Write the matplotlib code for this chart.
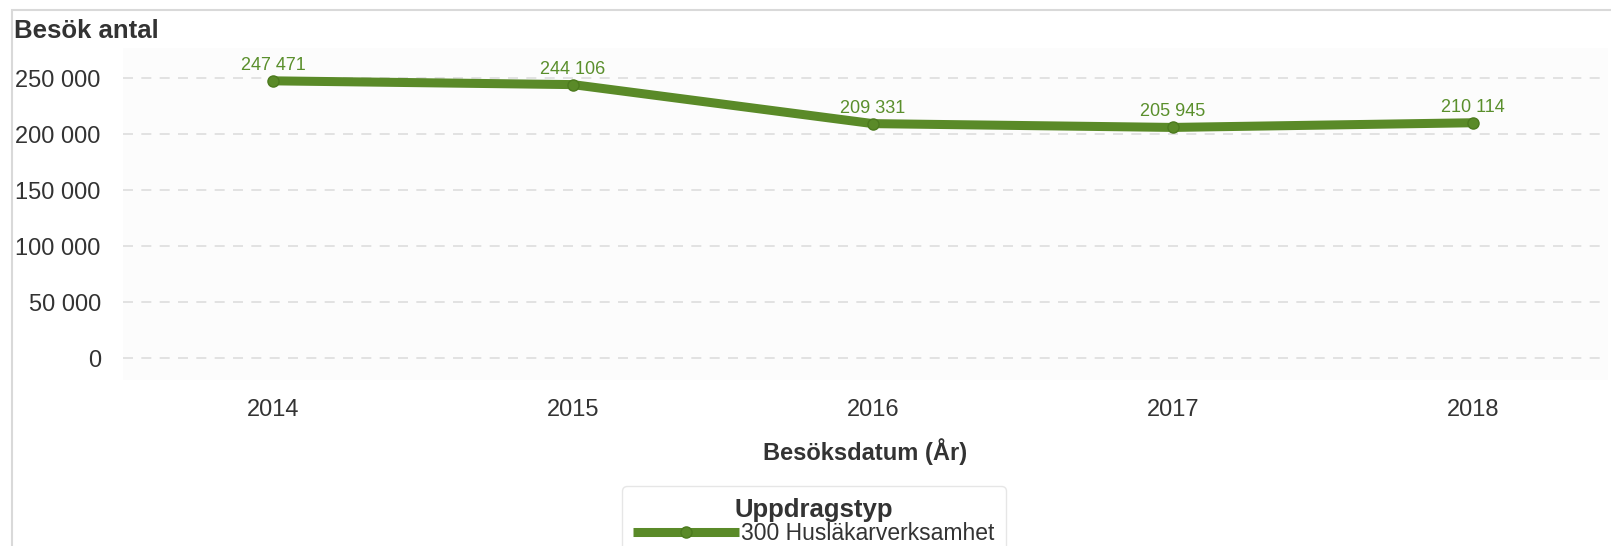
import matplotlib.pyplot as plt
from matplotlib.patches import Rectangle
from matplotlib.ticker import FuncFormatter

years = ['2014', '2015', '2016', '2017', '2018']
visits = [247471, 244106, 209331, 205945, 210114]
series_name = '300 Husläkarverksamhet'
yticks = [0, 50000, 100000, 150000, 200000, 250000]

plt.rcParams['font.family'] = ['Liberation Sans', 'DejaVu Sans']

green = '#5a8a28'

def sv(v, pos=None):
    return f'{int(v):,}'.replace(',', ' ')

fig = plt.figure(figsize=(16.11, 5.46), dpi=100)
fig.patches.append(Rectangle((12 / 1611, -0.1), 1.1, 1 - 10 / 546 + 0.1,
                             transform=fig.transFigure, fill=False,
                             edgecolor='#d9d9d9', lw=1.5))

ax = fig.add_axes([0.0764, 0.304, 0.9216, 0.608])
ax.set_facecolor('#fcfcfc')
x = list(range(len(years)))
ax.plot(x, visits, color=green, lw=6.5, marker='o', ms=8,
        markerfacecolor='#5a8a28', markeredgecolor='#4c7a1e',
        solid_capstyle='butt', label=series_name, zorder=3)
for xi, v in zip(x, visits):
    ax.annotate(sv(v), (xi, v), xytext=(0, 5), textcoords='offset points',
                ha='center', va='bottom', fontsize=13, color='#5a8f2c')

ax.set_xlim(-0.5, 4.45)
ax.set_ylim(-19200, 276700)
ax.set_xticks(x)
ax.set_xticklabels(years)
ax.set_yticks(yticks)
ax.yaxis.set_major_formatter(FuncFormatter(sv))
ax.tick_params(axis='both', length=0, labelsize=17, colors='#333333')
ax.tick_params(axis='y', pad=16)
ax.tick_params(axis='x', pad=14)
ax.grid(axis='y', color='#dddddd', ls=(0, (6, 5)), lw=1.2)
ax.set_axisbelow(True)
for s in ax.spines.values():
    s.set_visible(False)

ax.set_xlabel('Besöksdatum (År)', fontsize=17, fontweight='bold',
              color='#333333', labelpad=12)
fig.text(14 / 1611, 1 - 31 / 546, 'Besök antal', fontsize=18.5,
         fontweight='bold', color='#333333', va='center', ha='left')

leg = fig.legend(loc='upper center', bbox_to_anchor=(814 / 1611, 1 - 475 / 546),
                 title='Uppdragstyp', fontsize=16.5, handlelength=4.6,
                 handletextpad=0.1, borderpad=0.5, frameon=True, fancybox=True,
                 edgecolor='#e6e6e6', facecolor='white', framealpha=1,
                 title_fontproperties={'weight': 'bold', 'size': 18.5})
leg.get_title().set_color('#333333')
for t in leg.get_texts():
    t.set_color('#333333')
leg._legend_box.sep = 0

fig.savefig('out.png', dpi=100)
